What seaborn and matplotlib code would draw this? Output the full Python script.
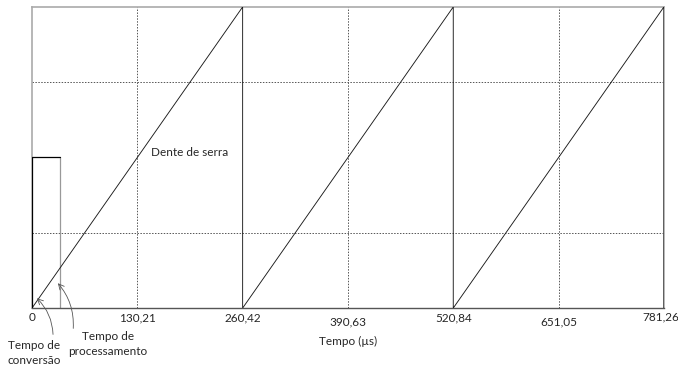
import numpy as np
import matplotlib
matplotlib.use("Agg")
import matplotlib.pyplot as plt
import matplotlib.transforms as mtransforms
import seaborn as sns

# Sawtooth data (time in microseconds)
tick_values = [0, 130.21, 260.42, 390.63, 520.84, 651.05, 781.26]
tick_labels = ["0", "130,21", "260,42", "390,63", "520,84", "651,05", "781,26"]
saw_t = [0, 260.42, 260.42, 520.84, 520.84, 781.26, 781.26]
saw_y = [0, 4, 0, 4, 0, 4, 0]
pulse_t = [0, 0, 34.6, 34.6]
pulse_y = [0, 2, 2, 0]

sns.set_style("white")
plt.rcParams['font.family'] = ['Lato', 'DejaVu Sans']

fig = plt.figure(figsize=(6.78, 3.65), dpi=100)
ax = fig.add_axes([0.0472, 0.156, 0.932, 0.825])

# dotted grid
for x in [130.21, 390.63, 651.05]:
    ax.axvline(x, color="#555555", lw=0.7, ls=(0, (1.5, 1.5)), zorder=1)
for y in [1, 3]:
    ax.axhline(y, color="#555555", lw=0.7, ls=(0, (1.5, 1.5)), zorder=1)

sns.lineplot(x=saw_t, y=saw_y, sort=False, estimator=None, ax=ax,
             color="#1a1a1a", lw=0.65, zorder=3)
ax.plot(pulse_t[:3], pulse_y[:3], color="black", lw=0.9, zorder=3)
ax.plot(pulse_t[2:], pulse_y[2:], color="#999999", lw=0.9, zorder=2)

ax.set_xlim(0, 781.26)
ax.set_ylim(0, 4)
ax.set_yticks([])
ax.set_xticks(tick_values)
ax.set_xticklabels(tick_labels, fontsize=8.5)
ax.tick_params(axis="x", length=0, pad=3)
ax.set_xlabel("")

# small vertical/horizontal offsets of individual tick labels
shifts = {3: (0, -4), 5: (0, -4), 6: (-3, 1)}
for i, lab in enumerate(ax.get_xticklabels()):
    if i in shifts:
        dx, dy = shifts[i]
        off = mtransforms.ScaledTranslation(dx / 100, dy / 100, fig.dpi_scale_trans)
        lab.set_transform(lab.get_transform() + off)

for s in ["top", "right", "left"]:
    ax.spines[s].set_color("#aaaaaa")
    ax.spines[s].set_linewidth(1.2)
ax.spines["bottom"].set_color("#555555")
ax.spines["bottom"].set_linewidth(1.0)

ax.text(195, 2.06, "Dente de serra", fontsize=8.5, ha="center", va="center")
ax.text(390.63, -0.45, "Tempo (µs)", fontsize=8.5, ha="center", va="center")

# annotation texts
ax.text(2.5, -0.42, "Tempo de\nconversão", fontsize=8.5, ha="center", va="top",
        linespacing=1.45, clip_on=False)
ax.text(94, -0.3, "Tempo de\nprocessamento", fontsize=8.5, ha="center", va="top",
        linespacing=1.45, clip_on=False)

# curved arrows
ax.annotate("", xy=(6, 0.13), xytext=(26, -0.35), annotation_clip=False,
            arrowprops=dict(arrowstyle="->", color="#555555", lw=0.6,
                            shrinkA=0, shrinkB=0,
                            connectionstyle="arc3,rad=0.2"))
ax.annotate("", xy=(32, 0.33), xytext=(51, -0.27), annotation_clip=False,
            arrowprops=dict(arrowstyle="->", color="#555555", lw=0.6,
                            shrinkA=0, shrinkB=0,
                            connectionstyle="arc3,rad=0.2"))

fig.savefig("out.png", dpi=100)
